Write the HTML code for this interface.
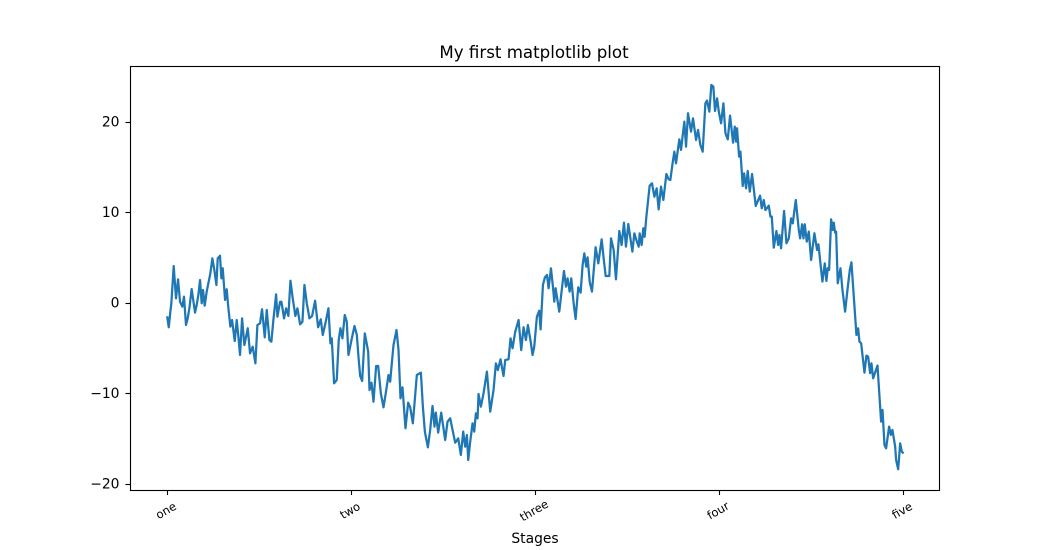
<!DOCTYPE html>
<html>
<head>
<meta charset="utf-8">
<title>My first matplotlib plot</title>
<style>
html,body{margin:0;padding:0;background:#fff;}
svg{display:block;font-family:"DejaVu Sans",sans-serif;}
text{fill:#000;}
</style>
</head>
<body>
<svg id="chart" width="1043" height="550" viewBox="0 0 1043 550" xmlns="http://www.w3.org/2000/svg">
  <rect x="0" y="0" width="1043" height="550" fill="#fff"/>
  <g id="series-layer"></g>
  <rect x="130.5" y="66.5" width="809" height="424" fill="none" stroke="#000" stroke-width="1.1"/>
  <g id="ticks-layer"></g>
  <text x="534" y="58" text-anchor="middle" font-size="16.67">My first matplotlib plot</text>
  <text x="535" y="543" text-anchor="middle" font-size="13.89">Stages</text>
</svg>
<script>
const xTickValues = [0, 250, 500, 750, 1000];
const xTickLabels = ["one", "two", "three", "four", "five"];
const yTickValues = [-20, -10, 0, 10, 20];
const yTickLabels = ["\u221220", "\u221210", "0", "10", "20"];
const steps = [0,2,3,4,5.5,8.7,11.8,14.6,17.3,20.4,22.7,25.4,27.7,30,33.1,37.7,39.9,42.2,44.5,46.7,48.5,50.8,53.5,56.2,58.5,61.2,63.9,66.7,68.5,71.6,73.5,75.3,78.5,80.7,83,85.7,88,91.6,94.3,96.6,98.8,101.6,104.7,109.3,112.4,116,119.7,122.4,126,128.7,132.4,135.1,138.7,141.4,144.1,147.8,149.6,153.2,155,158.6,161.4,164.5,167.3,170.4,174,176.8,180.4,183.6,186.3,189.5,193.1,196.7,200.8,204.9,208.5,211.2,214.8,218.9,221.6,223.4,226.6,230.2,232.9,235.2,237.9,241.1,243.8,246.1,
250.7,254.3,257.5,259.7,262,264.7,268.3,272.9,274.7,277.4,280.1,283.7,286.5,290.1,293.7,296.4,300.5,302.8,305,307.3,311.4,314.1,316.8,319.5,323.6,327.2,330,333.6,339,344.5,347.2,349.9,354,357.1,360.3,363,364.8,368,372.1,377.5,380.7,384.3,391.1,395.2,398.8,402,404.7,407,408.8,411.5,414.7,417,419.2,421.5,422.8,426,429.6,434.2,438.7,443.2,446.4,449.1,452.7,456.8,459.1,463.6,466.3,469,472.7,477.2,480.8,484,487.2,489.9,494,496.2,498.5,502.1,505.3,
507.1,510.3,513,515.8,518,521.2,523.9,525.7,527.5,532.5,534.8,538.9,541.6,543.8,546.6,548.8,552,554.7,558.3,561.5,564.2,566.5,569.2,571,573.8,576.9,581.9,585.5,590.1,592.8,595.5,600.5,602.8,606.4,609.5,614.1,617.2,620.4,623.1,626.3,631.8,634.5,637.2,640.4,641.7,644.4,646.7,648.5,650.8,655.3,658.5,661.7,664.8,667.5,670.7,673.9,678,681.1,683.4,
686.1,688.8,691.1,695.6,697.9,702.4,704.7,707.4,711.5,714.2,718.3,721,724.2,727.3,731,733.2,736.4,739.1,741.8,
744.1,746.9,749.1,752.3,755.5,758.2,761.4,764.5,768.6,770.9,772.7,774,776.8,778.6,781.7,783.6,786.3,788.5,791.3,794.4,799.4,805.3,807.6,810.3,812.6,817.1,819.4,821.2,823.9,827.5,829.8,831.6,833.8,837.9,841.1,844.3,847.4,849.7,853.8,857.9,859.7,862.4,864.2,866,868.7,871.5,
874.6,879.1,882.7,884.6,887.3,890,893.2,895.4,897.2,899.1,901.8,904,905.4,907.2,908.6,910.8,914.5,917.2,920.8,924,927.2,929.4,932.6,936.2,938.5,940.3,942.6,947.1,949.8,952.1,954.8,956.6,958.9,962,964.8,969.7,971.6,974.3,976.5,980.6,982.9,985.1,988.8,990.1,992.9,995.6,997.8,999.2];
const walkValues = [-1.64,-2.74,-1.93,-1.12,-0.09,4.03,0.46,2.56,0.09,-0.46,0.65,-2.49,-1.75,-0.64,1.49,-1.12,-0.28,0.83,2.49,-0.09,1.38,-0.35,1.2,2.3,3.22,4.88,3.59,1.93,4.88,5.17,2.67,3.78,0.28,1.46,-0.64,-2.67,-1.93,-4.25,-1.93,-3.77,-5.8,-1.75,-4.7,-2.85,-5.62,-4.88,-6.72,-2.49,-2.3,-0.75,-3.85,-0.83,-4.14,-4.33,-1.93,0.9,-1.57,0.09,0.09,-1.75,-0.64,-1.49,2.41,0.46,-1.49,-0.64,-2.41,-2.12,1.93,-0.09,-1.75,-1.49,0.2,-2.74,-1.86,-3.59,-2.3,-0.64,-4.51,-3.96,-8.93,-8.56,-4.14,-2.85,-3.96,-1.38,-2.12,-5.8,
-3.96,-2.6,-3.59,-5.99,-8.12,-8.67,-3.41,-5.43,-9.67,-8.86,-10.96,-7.02,-7.02,-10.04,-11.58,-10.22,-8.01,-8.75,-6.72,-4.7,-3.04,-5.25,-10.59,-9.37,-13.9,-11.07,-11.58,-13.35,-8.01,-7.75,-11.51,-14.27,-16,-14.09,-11.44,-13.72,-12.17,-14.38,-12.17,-15.19,-13.17,-12.8,-15.49,-15.01,-16.85,-14.27,-15.93,-14.64,-17.4,-15.38,-13.35,-14.27,-12.25,-12.8,-10.11,-11.51,-10.04,-7.64,-12.06,-9.67,-6.72,-7.46,-6.28,-8.12,-6.35,-6.28,-3.96,-5.06,-3.22,-1.93,-5.25,-2.74,-4.14,-2.49,-4.51,-5.8,-4.88,-1.57,-0.9,
-2.97,1.93,2.78,3.04,1.57,3.77,1.75,0.09,1.57,-1.01,0.64,3.48,1.75,2.67,1.2,2.67,-0.09,-1.82,1.68,1.09,4.14,5.43,3.96,4.99,2.3,1.2,6.1,4.33,6.98,4.88,2.93,2.93,7.09,5.8,2.56,7.9,6.35,8.82,6.17,8.67,5.62,7.64,6.91,6.17,7.64,6.35,8.2,7.27,9.48,12.91,13.17,11.69,12.61,10.29,12.8,11.33,14.2,13.61,13.54,
15.2,16.67,15.38,18.03,16.86,19.99,17.22,20.91,18.88,20.35,17.96,19.07,17.41,16.67,22.01,22.31,21.09,24.04,23.85,
21.16,22.56,21.16,19.8,22.01,18.7,18.03,20.65,17.66,19.43,17.77,19.25,16.12,16.67,12.88,14.27,12.62,14.53,12.25,14.2,10.67,11.81,10.41,11.33,10.22,10.7,9.49,9.49,6.06,7.9,6.36,7.46,5.99,10.11,6.54,7.09,9.3,8.75,11.33,8.01,7.09,8.64,7.09,8.64,6.73,7.83,
4.7,7.65,5.8,6.43,4.33,2.31,4.33,2.38,3.78,3.6,9.19,8.01,8.83,7.72,7.83,2.12,3.78,1.39,-1.01,1.39,3.6,4.44,0.65,-3.59,-2.85,-4.32,-4.51,-7.75,-5.87,-5.98,-7.82,-6.72,-8.37,-7.64,-6.97,-13.16,-11.87,-15.74,-16.11,-13.71,-14.63,-14.08,-15.92,-17.4,-18.43,-15.56,-16.48,-16.59];

const SVG_NS = "http://www.w3.org/2000/svg";
function xScale(step) { return 167.3 + step * 0.7361; }
function yScale(value) { return 302.5 - value * 9.05; }

const seriesLayer = document.getElementById("series-layer");
const ticksLayer = document.getElementById("ticks-layer");

const walkLine = document.createElementNS(SVG_NS, "polyline");


walkLine.setAttribute("points", steps.map(function (s, i) {
  return xScale(s).toFixed(2) + "," + yScale(walkValues[i]).toFixed(2);
}).join(" "));
walkLine.setAttribute("fill", "none");
walkLine.setAttribute("stroke", "#1f77b4");
walkLine.setAttribute("stroke-width", "2.25");
walkLine.setAttribute("stroke-linejoin", "round");
walkLine.setAttribute("stroke-linecap", "square");
seriesLayer.appendChild(walkLine);

xTickValues.forEach(function (v, i) {
  const px = Math.round(xScale(v)) + 0.5;
  const tick = document.createElementNS(SVG_NS, "line");
  
  
  tick.setAttribute("x1", px);
  tick.setAttribute("x2", px);
  tick.setAttribute("y1", 490.5);
  tick.setAttribute("y2", 495);
  tick.setAttribute("stroke", "#000");
  tick.setAttribute("stroke-width", "1.1");
  ticksLayer.appendChild(tick);
  const label = document.createElementNS(SVG_NS, "text");
  
  
  label.setAttribute("text-anchor", "middle");
  label.setAttribute("font-size", "11.57");
  const cx = xScale(v) - 1.3;
  const cy = 510.5;
  label.setAttribute("transform", "rotate(-30 " + cx + " " + cy + ")");
  label.setAttribute("x", cx);
  label.setAttribute("y", cy + 4);
  label.textContent = xTickLabels[i];
  ticksLayer.appendChild(label);
});

yTickValues.forEach(function (v, i) {
  const py = Math.round(yScale(v)) + 0.5;
  const tick = document.createElementNS(SVG_NS, "line");
  
  
  tick.setAttribute("x1", 125.5);
  tick.setAttribute("x2", 130.5);
  tick.setAttribute("y1", py);
  tick.setAttribute("y2", py);
  tick.setAttribute("stroke", "#000");
  tick.setAttribute("stroke-width", "1.1");
  ticksLayer.appendChild(tick);
  const label = document.createElementNS(SVG_NS, "text");
  
  
  label.setAttribute("text-anchor", "end");
  label.setAttribute("font-size", "13.89");
  label.setAttribute("x", 119.5);
  label.setAttribute("y", yScale(v) + 5);
  label.textContent = yTickLabels[i];
  ticksLayer.appendChild(label);
});
</script>
</body>
</html>
